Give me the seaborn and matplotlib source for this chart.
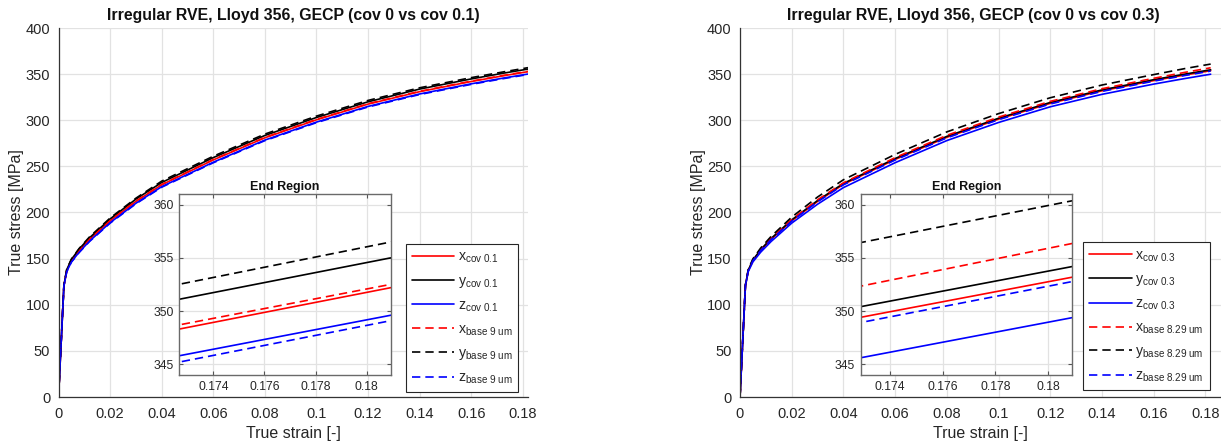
import numpy as np
import pandas as pd
import matplotlib
matplotlib.use("Agg")
import matplotlib.pyplot as plt
import seaborn as sns

# ---------------- data ----------------
strain = [0, 0.0021, 0.0032, 0.005, 0.008, 0.012, 0.02, 0.03, 0.04, 0.06,
          0.08, 0.10, 0.12, 0.14, 0.16, 0.172, 0.182]

# left panel: cov 0 (base 9 um) vs cov 0.1
x_cov01 = [0, 121, 137, 148, 159, 171, 191, 212, 230, 257, 281, 300.5, 317.5, 331, 342, 348.0, 352.7]
y_cov01 = [0, 121, 138, 149, 160.5, 172.5, 193, 214.5, 232.5, 259.5, 283.5, 303, 320, 333.8, 344.8, 350.8, 355.5]
z_cov01 = [0, 120.5, 136, 146.5, 157, 169, 189, 210, 228, 254.5, 278.5, 298, 315, 328.5, 339.5, 345.5, 350.1]
x_base9 = [0, 121, 137, 148.2, 159.3, 171.3, 191.4, 212.4, 230.4, 257.4, 281.4, 300.9, 317.9, 331.4, 342.4, 348.4, 353.0]
y_base9 = [0, 121.5, 138.5, 149.5, 161, 173.5, 194, 215.5, 234, 261, 285, 304.5, 321.5, 335.2, 346.2, 352.2, 357.0]
z_base9 = [0, 120.5, 135.8, 146.2, 156.6, 168.5, 188.4, 209.4, 227.4, 253.9, 277.9, 297.4, 314.4, 327.9, 338.9, 344.9, 349.6]

# right panel: cov 0 (base 8.29 um) vs cov 0.3
x_cov03 = [0, 121, 137, 148, 159, 171, 191, 212, 230.5, 257.5, 281.5, 301.2, 318.3, 331.9, 343, 349.0, 353.7]
y_cov03 = [0, 121, 137.5, 148.5, 159.8, 171.8, 192, 213, 231.5, 258.5, 282.5, 302.2, 319.3, 332.9, 344, 350.0, 354.7]
z_cov03 = [0, 120.5, 136, 146.5, 157, 168.5, 188.5, 209, 227, 254, 278, 297.6, 314.6, 328.1, 339.2, 345.2, 349.9]
x_base829 = [0, 121, 137.5, 148.5, 160, 172.2, 192.5, 213.8, 232.2, 259.5, 283.7, 303.4, 320.5, 334.2, 345.5, 351.9, 356.9]
y_base829 = [0, 121.5, 138.5, 149.8, 161.5, 174, 195, 216.8, 235.5, 263, 287.4, 307.2, 324.4, 338.2, 349.5, 356.0, 360.9]
z_base829 = [0, 121, 137, 147.8, 158.7, 170.5, 190.6, 211.6, 230, 256.9, 280.9, 300.6, 317.6, 331.3, 342.4, 348.5, 353.3]

titles = ["Irregular RVE, Lloyd 356, GECP (cov 0 vs cov 0.1)",
          "Irregular RVE, Lloyd 356, GECP (cov 0 vs cov 0.3)"]
labels_left = [r"x$_{\mathregular{cov\ 0.1}}$", r"y$_{\mathregular{cov\ 0.1}}$", r"z$_{\mathregular{cov\ 0.1}}$",
               r"x$_{\mathregular{base\ 9\ um}}$", r"y$_{\mathregular{base\ 9\ um}}$", r"z$_{\mathregular{base\ 9\ um}}$"]
labels_right = [r"x$_{\mathregular{cov\ 0.3}}$", r"y$_{\mathregular{cov\ 0.3}}$", r"z$_{\mathregular{cov\ 0.3}}$",
                r"x$_{\mathregular{base\ 8.29\ um}}$", r"y$_{\mathregular{base\ 8.29\ um}}$", r"z$_{\mathregular{base\ 8.29\ um}}$"]
main_xticks = [0, 0.02, 0.04, 0.06, 0.08, 0.1, 0.12, 0.14, 0.16, 0.18]
main_xticklabels = ["0", "0.02", "0.04", "0.06", "0.08", "0.1", "0.12", "0.14", "0.16", "0.18"]
main_yticks = [0, 50, 100, 150, 200, 250, 300, 350, 400]
inset_xticks = [0.174, 0.176, 0.178, 0.18]
inset_xticklabels = ["0.174", "0.176", "0.178", "0.18"]
inset_yticks = [345, 350, 355, 360]

# ---------------- style ----------------
sns.set_theme(style="white")
plt.rcParams["font.family"] = ["Liberation Sans", "DejaVu Sans"]
plt.rcParams["mathtext.fontset"] = "custom"
plt.rcParams["mathtext.rm"] = "Liberation Sans"
plt.rcParams["mathtext.it"] = "Liberation Sans"

TXT = "#262626"
GRID = "#e2e2e2"
colors = ["#ff0000", "#000000", "#0000ff", "#ff0000", "#000000", "#0000ff"]
styles = ["-", "-", "-", (0, (5, 3)), (0, (5, 3)), (0, (5, 3))]

fig = plt.figure(figsize=(12.21, 4.48), dpi=100)
W, H = 1221.0, 448.0

def fx(px):
    return px / W

def fy(py):
    return 1 - py / H

main_pos = [
    [fx(58.5), fy(397), fx(528 - 58.5), (397 - 28) / H],
    [fx(740), fy(397), fx(1221 - 740), (397 - 28) / H],
]
main_xlim = [(0, 0.182), (0, 0.186)]
inset_pos = [
    [fx(179.3), fy(375), fx(391 - 179.3), (375 - 194) / H],
    [fx(860.7), fy(375), fx(1072 - 860.7), (375 - 194) / H],
]
inset_xlim = [(0.17267, 0.18095), (0.17289, 0.1809)]
legend_anchor = [(fx(405.7), fy(244)), (fx(1083.3), fy(242.3))]
title_x = [0.5, (973 - 740) / (1221 - 740)]

panels = [
    [x_cov01, y_cov01, z_cov01, x_base9, y_base9, z_base9],
    [x_cov03, y_cov03, z_cov03, x_base829, y_base829, z_base829],
]
panel_labels = [labels_left, labels_right]

for p in range(2):
    ax = fig.add_axes(main_pos[p])
    ins = fig.add_axes(inset_pos[p])
    handles = []
    for i, series in enumerate(panels[p]):
        df = pd.DataFrame({"strain": strain, "stress": series})
        for a in (ax, ins):
            sns.lineplot(data=df, x="strain", y="stress", ax=a, color=colors[i],
                         linestyle=styles[i], linewidth=1.2, sort=False,
                         estimator=None, legend=False)
        handles.append(ax.lines[-1])

    # main axes
    ax.set_xlim(*main_xlim[p])
    ax.set_ylim(0, 400)
    ax.set_xticks(main_xticks)
    ax.set_xticklabels(main_xticklabels)
    ax.set_yticks(main_yticks)
    ax.grid(True, color=GRID, linewidth=0.9)
    ax.set_axisbelow(True)
    for s in ["top", "right"]:
        ax.spines[s].set_visible(False)
    for s in ["left", "bottom"]:
        ax.spines[s].set_color("#333333")
        ax.spines[s].set_linewidth(0.9)
    ax.tick_params(direction="in", length=4, width=0.8, color="#333333",
                   labelsize=10.5, labelcolor=TXT)
    ax.tick_params(axis="x", pad=7)
    ax.tick_params(axis="y", pad=6)
    ax.set_xlabel("True strain [-]", fontsize=11.5, color=TXT, labelpad=4)
    ax.set_ylabel("True stress [MPa]", fontsize=11.5, color=TXT, labelpad=1)
    ax.set_title(titles[p], fontsize=11.4, fontweight="bold", color="#111111",
                 pad=6, x=title_x[p])

    # inset
    ins.set_xlim(*inset_xlim[p])
    ins.set_ylim(344, 361)
    ins.set_xticks(inset_xticks)
    ins.set_xticklabels(inset_xticklabels)
    ins.set_yticks(inset_yticks)
    ins.set_xlabel("")
    ins.set_ylabel("")
    ins.grid(True, color=GRID, linewidth=0.9)
    ins.set_axisbelow(True)
    ins.set_facecolor("white")
    for s in ins.spines.values():
        s.set_visible(True)
        s.set_color("#6a6a6a")
        s.set_linewidth(1.0)
    ins.tick_params(direction="in", length=3, width=0.8, color="#555555",
                    labelsize=8.7, labelcolor=TXT, pad=4,
                    top=True, right=True, bottom=True, left=True)
    ins.set_title("End Region", fontsize=9, fontweight="bold", color="#111111", pad=3)

    leg = ax.legend(handles, panel_labels[p], loc="upper left",
                    bbox_to_anchor=legend_anchor[p], bbox_transform=fig.transFigure,
                    fontsize=10.2, frameon=True, fancybox=False, framealpha=1,
                    edgecolor="#262626", handlelength=3.0, handletextpad=0.25,
                    labelspacing=0.6, borderpad=0.42, borderaxespad=0)
    leg.get_frame().set_linewidth(0.8)

fig.savefig("out.png", dpi=100)
